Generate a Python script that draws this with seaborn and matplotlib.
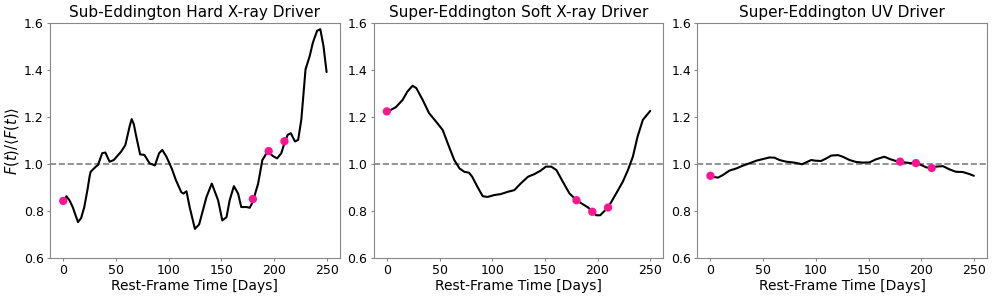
import numpy as np
import pandas as pd
import seaborn as sns
from matplotlib import pyplot as plt

sns.set_style('ticks')
plt.rcParams['font.family'] = ['DejaVu Sans']
plt.rcParams['text.color'] = 'black'
plt.rcParams['axes.labelcolor'] = 'black'

titles = ['Sub-Eddington Hard X-ray Driver',
          'Super-Eddington Soft X-ray Driver',
          'Super-Eddington UV Driver']

# light curves (days, normalised flux)
hard_t = [2, 3, 6, 9, 14, 17, 20, 23, 25, 26, 31, 33, 37, 40, 44, 48, 55, 59, 63, 65,
          67, 69, 73, 77, 82, 87, 91, 94, 98, 103, 107, 112, 114, 117, 120, 125, 129,
          136, 141, 147, 151, 155, 158, 162, 166, 169, 174, 177, 180, 185, 189, 193,
          195, 199, 203, 207, 210, 213, 216, 220, 223, 226, 230, 234, 237, 241, 244,
          247, 250]
hard_f = [0.85, 0.863, 0.845, 0.817, 0.753, 0.77, 0.817, 0.89, 0.946, 0.967, 0.989,
          0.996, 1.046, 1.049, 1.01, 1.017, 1.053, 1.081, 1.16, 1.191, 1.17, 1.124,
          1.041, 1.039, 1.003, 0.994, 1.046, 1.06, 1.031, 0.981, 0.931, 0.881, 0.874,
          0.884, 0.817, 0.724, 0.743, 0.86, 0.917, 0.846, 0.76, 0.774, 0.846, 0.906,
          0.874, 0.817, 0.817, 0.814, 0.84, 0.917, 1.017, 1.046, 1.05, 1.034, 1.024,
          1.046, 1.09, 1.124, 1.131, 1.096, 1.103, 1.189, 1.403, 1.46, 1.517, 1.567,
          1.574, 1.503, 1.391]

soft_t = [0, 2, 8.6, 15, 19.6, 24.4, 28, 34, 40, 46.6, 53, 59, 64, 69, 73.5, 78, 81,
          86, 91, 95.7, 102, 108, 115, 121, 127, 134, 140, 146, 151, 156, 161, 167,
          173.3, 180, 186, 191, 195, 198.7, 202.5, 205.6, 210, 217.7, 224, 228.8,
          233.5, 238, 243, 250]
soft_f = [1.224, 1.226, 1.242, 1.273, 1.309, 1.333, 1.323, 1.273, 1.217, 1.181, 1.145,
          1.074, 1.017, 0.981, 0.967, 0.963, 0.946, 0.903, 0.863, 0.86, 0.868, 0.872,
          0.882, 0.889, 0.917, 0.946, 0.957, 0.972, 0.989, 0.989, 0.974, 0.925, 0.875,
          0.846, 0.829, 0.815, 0.797, 0.782, 0.782, 0.796, 0.815, 0.875, 0.925, 0.974,
          1.031, 1.117, 1.188, 1.226]

uv_t = [2, 7, 11.7, 18, 24.4, 30.7, 37, 43.4, 49.7, 56, 60.8, 65.5, 71.8, 78, 83, 87,
        90.8, 95.6, 100, 105, 110, 114.6, 121, 125.6, 132, 138, 144.6, 151, 157, 165,
        171, 176, 180, 185.8, 192, 195, 200, 204.7, 210, 214, 220.6, 227, 233, 239.5,
        246, 250]
uv_f = [0.946, 0.942, 0.953, 0.972, 0.981, 0.993, 1.003, 1.014, 1.021, 1.028, 1.027,
        1.017, 1.01, 1.007, 1.003, 0.999, 1.007, 1.017, 1.014, 1.013, 1.024, 1.036,
        1.038, 1.031, 1.017, 1.009, 1.006, 1.007, 1.02, 1.031, 1.02, 1.013, 1.01,
        1.006, 1.003, 1.004, 0.996, 0.986, 0.983, 0.989, 0.991, 0.977, 0.967, 0.966,
        0.957, 0.95]

# sampled epochs (pink dots)
obs_t = [0, 180, 195, 210]
hard_obs = [0.843, 0.851, 1.055, 1.097]
soft_obs = [1.224, 0.846, 0.797, 0.815]
uv_obs = [0.950, 1.010, 1.004, 0.983]

curves = [(hard_t, hard_f, hard_obs), (soft_t, soft_f, soft_obs), (uv_t, uv_f, uv_obs)]

fig, axes = plt.subplots(1, 3, figsize=(9.97, 2.99), dpi=100)
fig.subplots_adjust(left=0.0502, right=0.990, top=0.923, bottom=0.137, wspace=0.117)

for ax, title, (t, f, obs) in zip(axes, titles, curves):
    df = pd.DataFrame({'t': t, 'f': f})
    ax.axhline(1.0, color='gray', ls='--', lw=1.2, zorder=1)
    sns.lineplot(data=df, x='t', y='f', ax=ax, color='black', lw=1.5, zorder=2)
    sns.scatterplot(x=obs_t, y=obs, ax=ax, color='#ff1493', s=36, edgecolor='none', zorder=3)
    ax.set_ylim(0.6, 1.6)
    ax.set_xlim(-12.5, 262.5)
    ax.set_xticks([0, 50, 100, 150, 200, 250])
    ax.set_yticks([0.6, 0.8, 1.0, 1.2, 1.4, 1.6])
    ax.set_title(title, fontsize=11, pad=4, color='black')
    ax.set_xlabel('Rest-Frame Time [Days]', fontsize=10, labelpad=1)
    ax.set_ylabel('')
    ax.tick_params(labelsize=9, color='#888888', labelcolor='black', length=2.5, pad=2)
    for sp in ax.spines.values():
        sp.set_color('#888888')
        sp.set_visible(True)

axes[0].set_ylabel(r'$F(t)/\langle F(t)\rangle$', fontsize=10.5, labelpad=2)

fig.savefig('out.png', dpi=100)
